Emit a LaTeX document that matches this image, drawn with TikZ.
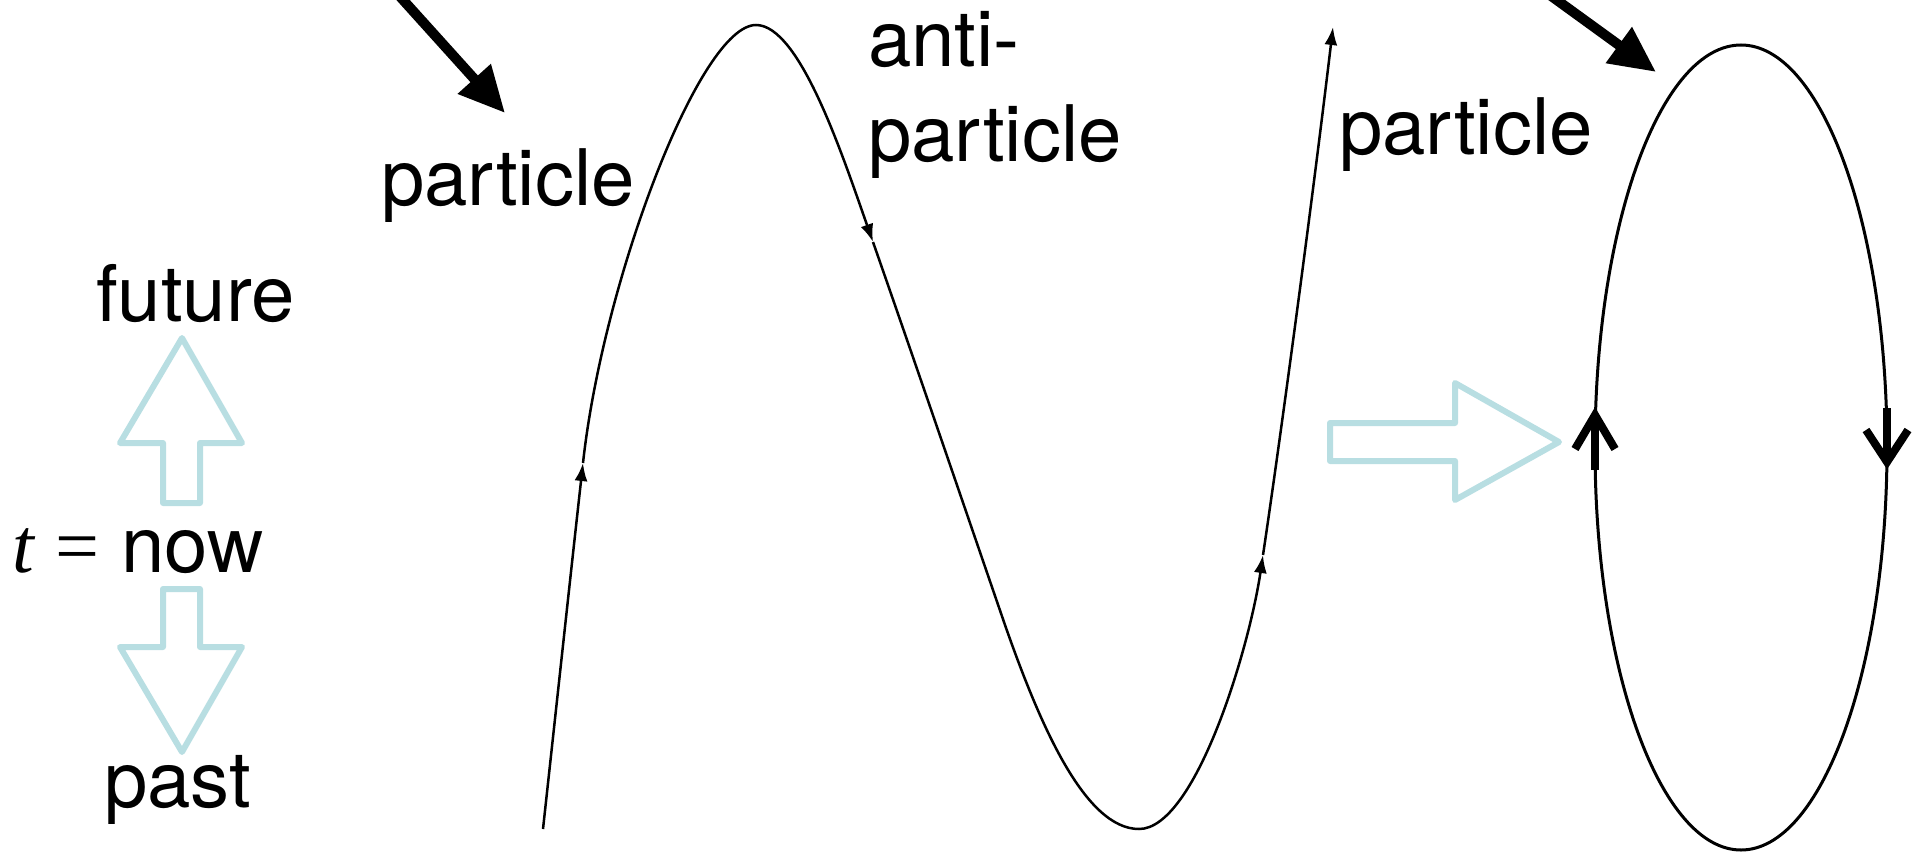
\documentclass[tikz,border=0pt]{standalone}
\usepackage{fontspec}
\setmainfont{TeX Gyre Heros}
\newfontfamily\tserif{Liberation Serif}
\usetikzlibrary{arrows.meta}
\definecolor{hollowblue}{RGB}{184,222,226}
\begin{document}
\begin{tikzpicture}[x=1pt,y=-1pt,
  lbl/.style={anchor=base west, inner sep=0pt, font=\fontsize{78}{90}\selectfont},
  hollow/.style={draw=hollowblue, line width=6pt, line join=round, fill=white},
  curve/.style={line width=2.5pt, -{Latex[length=18pt,width=13pt]}},
  bigarrow/.style={line width=10pt, -{Triangle[length=46pt,width=42pt]}},
  openarr/.style={line width=8pt, line join=miter, line cap=butt}]
\useasboundingbox (0,0) rectangle (1921,853);
\clip (0,0) rectangle (1921,853);

% labels
\node[lbl] (future) at (96,321) {future};
\node[lbl] (now) at (12,572) {{\tserif\itshape t} {\tserif =} now};
\node[lbl] (past) at (104,807) {past};
\node[lbl] (p1) at (381,205) {particle};
\node[lbl] (anti) at (868,67) {anti-};
\node[lbl] (p2) at (868,162) {particle};
\node[lbl] (p3) at (1339,155) {particle};

% hollow arrows
\draw[hollow] (182,338) -- (242,443) -- (200,443) -- (200,503) -- (163,503) -- (163,443) -- (120,443) -- cycle;
\draw[hollow] (163,589) -- (200,589) -- (200,647) -- (242,647) -- (182,752) -- (120,647) -- (163,647) -- cycle;
\draw[hollow] (1330,423) -- (1455,423) -- (1455,383) -- (1559,442) -- (1455,500) -- (1455,461) -- (1330,461) -- cycle;

% big pointer arrows
\coordinate (b1s) at (349,-60);
\coordinate (b1e) at (505,113);
\coordinate (b2s) at (1474,-60);
\coordinate (b2e) at (1656,72);
\draw[bigarrow] (b1s) -- (b1e);
\draw[bigarrow] (b2s) -- (b2e);

% world line
\coordinate (w0) at (543,829);
\coordinate (w1) at (583,463);
\coordinate (top) at (756,25);
\coordinate (w2) at (873,242);
\coordinate (w3) at (1005,625);
\coordinate (bot) at (1139,829);
\coordinate (w4) at (1263,555);
\coordinate (w5) at (1333,27);
\draw[curve] (w0) .. controls (556,710) and (570,580) .. (w1);
\draw[curve] (w1) .. controls (603,280) and (700,25) .. (top)
                  .. controls (800,25) and (843,157) .. (w2);
\draw[curve] (w2) .. controls (917,368) and (961,497) .. (w3)
                  .. controls (1040,725) and (1085,829) .. (bot)
                  .. controls (1195,829) and (1249,650) .. (w4);
\draw[curve] (w4) .. controls (1278,455) and (1310,220) .. (w5);

% loop
\draw[line width=3pt] (1741,447.5) ellipse [x radius=146pt, y radius=402.5pt];
\draw[openarr] (1595,470) -- (1595,420);
\draw[openarr] (1575,449) -- (1595,415) -- (1615,449);
\draw[openarr] (1887,408) -- (1887,455);
\draw[openarr] (1866,430) -- (1887,462) -- (1908,430);
\end{tikzpicture}
\end{document}
